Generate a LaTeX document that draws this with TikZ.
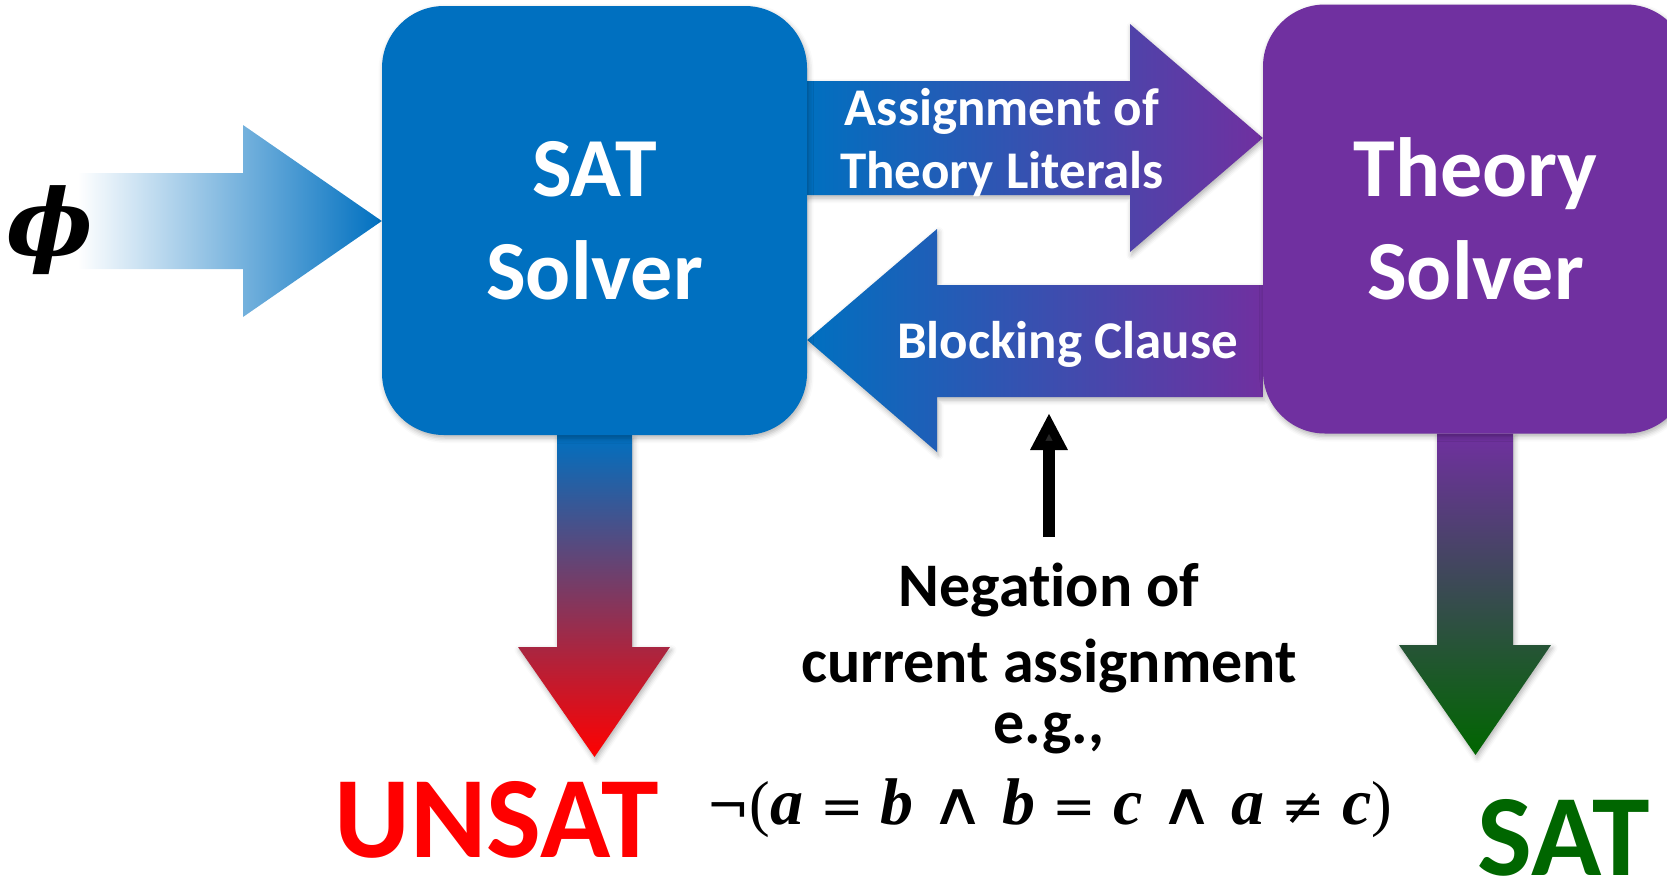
\documentclass[tikz,border=0pt]{standalone}
\usepackage{graphicx}
\usepackage{fontspec}
\setmainfont{Carlito}[Ligatures=NoCommon]
\newfontfamily\phifont{DejaVu Serif}
\newfontfamily\varfont{Liberation Serif}
\newfontfamily\symfont{DejaVu Sans}
\usetikzlibrary{calc,backgrounds,shadows.blur,arrows.meta}
\definecolor{satblue}{RGB}{0,112,192}
\definecolor{thpurple}{RGB}{112,48,160}
\definecolor{unsatred}{RGB}{255,0,0}
\definecolor{satgreen}{RGB}{0,102,0}
% pieces of the example formula
\newcommand{\fmvar}[1]{{\varfont\bfseries\itshape\fontsize{66}{76}\selectfont #1}}
\newcommand{\fmsym}[1]{{\symfont\mdseries\fontsize{52}{76}\selectfont #1}}
\newcommand{\fmwedge}{\scalebox{1.25}[1]{\symfont\mdseries\fontsize{60}{76}\selectfont ∧}}
\newcommand{\fmpar}[1]{{\varfont\mdseries\fontsize{62}{76}\selectfont #1}}
\newcommand{\fmgap}{\hspace{17pt}}
\tikzset{
  softshadow/.style={blur shadow={shadow xshift=1.5pt, shadow yshift=-3pt,
      shadow blur radius=5pt, shadow opacity=30}},
  solverbox/.style={rounded corners=62pt, minimum width=425pt, minimum height=429pt,
      inner sep=0pt, text=white, align=center,
      font=\bfseries\fontsize{84}{103}\selectfont, softshadow},
  blockarrow/.style={softshadow},
  arrowlabel/.style={text=white, font=\bfseries\fontsize{53}{63}\selectfont,
      align=center, inner sep=0pt},
  verdict/.style={font=\bfseries\fontsize{116}{130}\selectfont, inner sep=0pt, anchor=base},
  notetext/.style={font=\bfseries\fontsize{62}{76}\selectfont, align=center, inner sep=0pt},
  noteline/.style={line width=12pt, -{Triangle[width=35pt,length=37pt]}}
}
\begin{document}
\begin{tikzpicture}[x=1pt,y=-1pt]
\useasboundingbox (0,0) rectangle (1667,879);

% solver boxes
\node[solverbox, fill=satblue] (sat) at (594.5,220.5) {SAT\\Solver};
\node[solverbox, fill=thpurple] (theory) at (1475.5,219) {Theory\\Solver};

% input formula
\node[inner sep=0pt, font=\phifont\bfseries\itshape\fontsize{92}{100}\selectfont] (phi) at (50,230) {ϕ};
\coordinate (instart) at ([xshift=-16pt]phi.east);

% block arrows, kept behind the boxes
\begin{pgfonlayer}{background}
  % input into the SAT solver
  \path[left color=white, right color=satblue]
    (instart |- 0,173) -- (243,173) -- (243,125) -- (sat.west |- 0,221)
    -- (243,317) -- (243,269) -- (instart |- 0,269) -- cycle;
  % assignment of theory literals
  \path[blockarrow, left color=satblue, right color=thpurple]
    (sat.east |- 0,81) -- (1130,81) -- (1130,24) -- (theory.west |- 0,138)
    -- (1130,252) -- (1130,195) -- (sat.east |- 0,195) -- cycle;
  % blocking clause
  \path[blockarrow, left color=satblue, right color=thpurple]
    (theory.west |- 0,285) -- (937,285) -- (937,229) -- (sat.east |- 0,340)
    -- (937,452) -- (937,397) -- (theory.west |- 0,397) -- cycle;
  % SAT solver -> UNSAT
  \path[blockarrow, top color=satblue, bottom color=unsatred]
    (557,0 |- sat.south) -- (557,647) -- (518,647) -- (594.5,757)
    -- (670,647) -- (632,647) -- (632,0 |- sat.south) -- cycle;
  % theory solver -> SAT
  \path[blockarrow, top color=thpurple, bottom color=satgreen]
    (1437,0 |- theory.south) -- (1437,645) -- (1399,645) -- (1475.5,755)
    -- (1551,645) -- (1513,645) -- (1513,0 |- theory.south) -- cycle;
\end{pgfonlayer}

% arrow labels
\node[arrowlabel] (assignlbl) at (1002,143) {Assignment of\\Theory Literals};
\node[arrowlabel, anchor=base] (blocklbl) at (1067.5,358) {Blocking Clause};

% results
\node[verdict, text=unsatred] (unsat) at (496.5,857) {UNSAT};
\node[verdict, text=satgreen] (satres) at (1564,875) {SAT};

% explanation of the blocking clause
\node[notetext] (note) at (1049,700) {Negation of\\current assignment\\[-15pt]e.g.,\\[5pt]%
  \fmsym{¬}\fmpar{(}\fmvar{a}\fmgap\fmsym{=}\fmgap\fmvar{b}\fmgap\fmwedge\fmgap\fmvar{b}\fmgap
  \fmsym{=}\fmgap\fmvar{c}\fmgap\fmwedge\fmgap\fmvar{a}\fmgap\fmsym{≠}\fmgap\fmvar{c}\fmpar{)}};
\coordinate (notetail) at (1049,537);
\coordinate (blockpt) at (1049,413);
\draw[noteline] (notetail) -- (blockpt);
\end{tikzpicture}
\end{document}
